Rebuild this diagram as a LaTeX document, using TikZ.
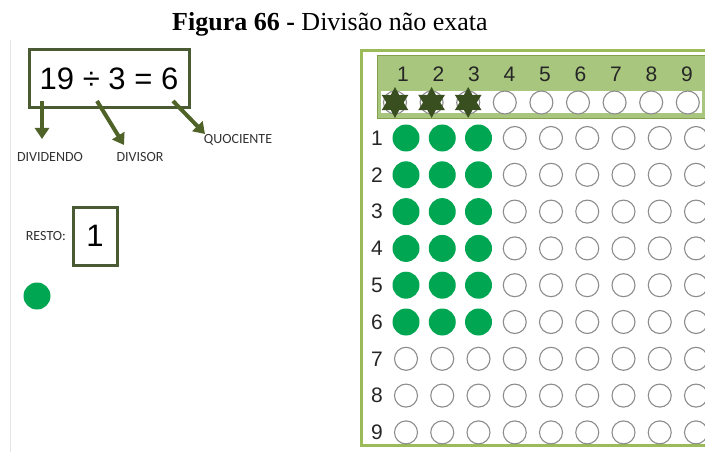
\documentclass[tikz,border=0pt]{standalone}
\usepackage{fontspec}
\setmainfont{Liberation Serif}
\newfontfamily\arialfont{Liberation Sans}
\newfontfamily\labelfont{Carlito}
\usepackage{tikz}
\usetikzlibrary{arrows.meta,positioning,shapes.geometric}

\definecolor{darkolive}{HTML}{4F6228}
\definecolor{boxline}{HTML}{4A5A32}
\definecolor{lightframe}{HTML}{9BBB59}
\definecolor{headfill}{HTML}{A8C67E}
\definecolor{dotgreen}{HTML}{00A651}
\definecolor{stargreen}{HTML}{3A4F20}

\begin{document}
\begin{tikzpicture}[x=1pt,y=-1pt,>={Triangle[width=14pt,length=11pt]},
    bigtext/.style={font=\arialfont\fontsize{31}{36}\selectfont},
    capslabel/.style={font=\labelfont\fontsize{14}{16}\selectfont,text=black!80},
    numtext/.style={font=\arialfont\fontsize{21}{23}\selectfont,text=black!85,inner sep=0pt},
    mathbox/.style={draw=boxline,line width=3pt,bigtext,inner sep=0pt},
    emptydot/.style={circle,draw=gray!90,line width=1.1pt,fill=white,minimum size=23pt,inner sep=0pt},
    fulldot/.style={circle,fill=dotgreen,minimum size=27pt,inner sep=0pt},
    blackstar/.style={star,star points=6,star point ratio=1.8,fill=stargreen,minimum size=31pt,inner sep=0pt},
    guide/.style={darkolive,line width=4pt}]

\useasboundingbox (0,0) rectangle (705,452);
\clip (0,0) rectangle (705,452);

% Title
\node[anchor=base,font=\fontsize{26}{29}\selectfont] (title) at (330,31)
    {\textbf{Figura 66 -} Divisão não exata};

% Page edge
\draw[gray!20,line width=0.8pt] (10,40) -- (10,452);

% Division and its parts
\node[mathbox,minimum width=160,minimum height=58] (eq) at (109,79) {19 ÷ 3 = 6};

\node[capslabel] (dividendo) at (50,157) {DIVIDENDO};
\node[capslabel] (divisor) at (140,157) {DIVISOR};
\node[capslabel] (quociente) at (238,140) {QUOCIENTE};

\coordinate (dividendo-tail) at (42,101);
\coordinate (dividendo-tip) at (42,139);
\coordinate (divisor-tail) at (97,101);
\coordinate (divisor-tip) at (124,145);
\coordinate (quociente-tail) at (173,101);
\coordinate (quociente-tip) at (205,134);

\draw[guide,->] (dividendo-tail) -- (dividendo-tip);
\draw[guide,->] (divisor-tail) -- (divisor-tip);
\draw[guide,->] (quociente-tail) -- (quociente-tip);

% Remainder
\node[mathbox,minimum width=44,minimum height=58] (resto) at (95,236) {1};
\node[capslabel,left=2pt of resto] (restolabel) {RESTO:};
\node[fulldot] (leftover) at (37,296) {};

% Board frame and header
\draw[lightframe,line width=3pt] (361,51) rectangle (720,445);
\filldraw[fill=headfill,draw=lightframe!85!black,line width=1pt]
    (377,56) rectangle (720,119);
\fill[white] (381,91) rectangle (702,113);

\foreach \c in {1,...,9}{
    \node[numtext] (col\c) at ({403+(\c-1)*35.5},74) {\c};
    \node[emptydot] (slot\c) at ({395+(\c-1)*36.6},102.5) {};
}
\foreach \c in {1,2,3}{
    \node[blackstar] (divstar\c) at (slot\c) {};
}

% Board rows
\foreach \r in {1,...,9}{
    \node[numtext] (row\r) at (377,{138+(\r-1)*36.8}) {\r};
    \foreach \c in {1,...,9}{
        \pgfmathtruncatemacro\full{and(\r<7,\c<4)}
        \ifnum\full=1
            \node[fulldot] (dot-\r-\c) at ({406+(\c-1)*36.25},{138+(\r-1)*36.8}) {};
        \else
            \node[emptydot] (dot-\r-\c) at ({406+(\c-1)*36.25},{138+(\r-1)*36.8}) {};
        \fi
    }
}

\end{tikzpicture}
\end{document}
